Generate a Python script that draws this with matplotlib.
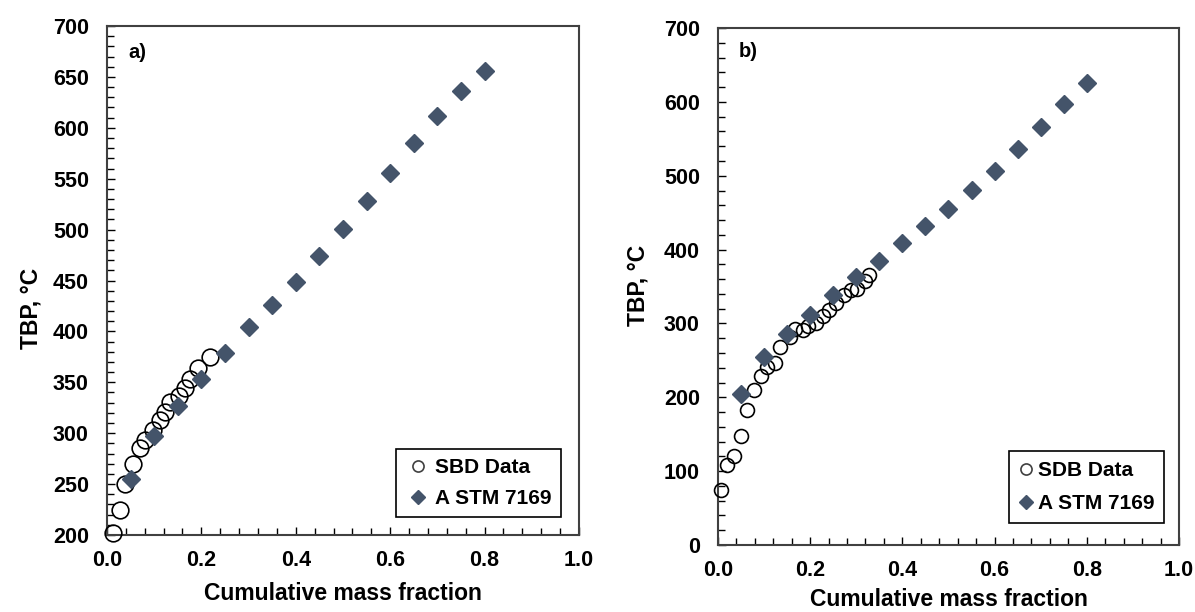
import matplotlib
matplotlib.use("Agg")
import matplotlib.pyplot as plt
from matplotlib.ticker import MultipleLocator, FormatStrFormatter
from matplotlib.lines import Line2D

plt.rcParams['font.family'] = ['Liberation Sans', 'DejaVu Sans']
plt.rcParams['font.weight'] = 'bold'

# ---- panel a) ----
sbd_x = [0.013, 0.028, 0.038, 0.056, 0.071, 0.080, 0.097, 0.112, 0.123,
         0.133, 0.153, 0.165, 0.176, 0.193, 0.218]
sbd_y = [202, 225, 250, 270, 285, 293, 303, 313, 321,
         331, 337, 344, 353, 364, 375]
astm_a_x = [0.05, 0.10, 0.15, 0.20, 0.25, 0.30, 0.35, 0.40,
            0.45, 0.50, 0.55, 0.60, 0.65, 0.70, 0.75, 0.80]
astm_a_y = [255, 297, 327, 353, 379, 404, 426, 449,
            474, 501, 528, 556, 585, 612, 636, 656]

# ---- panel b) ----
sdb_x = [0.0065, 0.020, 0.035, 0.049, 0.064, 0.079, 0.093, 0.107, 0.124,
         0.135, 0.156, 0.167, 0.184, 0.196, 0.213, 0.227, 0.241, 0.257,
         0.273, 0.288, 0.302, 0.318, 0.328]
sdb_y = [75, 108, 121, 147, 183, 210, 229, 241, 247,
         268, 282, 292, 291, 296, 300, 310, 318, 328,
         338, 345, 347, 357, 366]
astm_b_x = [0.05, 0.10, 0.15, 0.20, 0.25, 0.30, 0.35, 0.40,
            0.45, 0.50, 0.55, 0.60, 0.65, 0.70, 0.75, 0.80]
astm_b_y = [205, 254, 286, 312, 339, 363, 385, 409,
            432, 455, 481, 507, 536, 566, 597, 625]

x_label = "Cumulative mass fraction"
y_label = "TBP, °C"
diamond_color = "#44546A"
spine_color = "#404040"

fig = plt.figure(figsize=(11.95, 6.12), dpi=100)
ax_a = fig.add_axes([0.0895, 0.1258, 0.395, 0.8317])
ax_b = fig.add_axes([0.6008, 0.1095, 0.3858, 0.8447])


def style_axes(ax, ymin, ymax, ymaj, ymin_step):
    ax.set_xlim(0, 1.0)
    ax.set_ylim(ymin, ymax)
    ax.xaxis.set_major_locator(MultipleLocator(0.2))
    ax.xaxis.set_minor_locator(MultipleLocator(0.04))
    ax.yaxis.set_major_locator(MultipleLocator(ymaj))
    ax.yaxis.set_minor_locator(MultipleLocator(ymin_step))
    ax.xaxis.set_major_formatter(FormatStrFormatter('%.1f'))
    ax.yaxis.set_major_formatter(FormatStrFormatter('%d'))
    ax.tick_params(which='both', direction='in', top=False, right=False,
                   color='black', width=1.0)
    ax.tick_params(which='major', length=6, labelsize=15.5)
    ax.tick_params(axis='y', which='major', pad=13)
    ax.tick_params(axis='x', which='major', pad=11)
    ax.tick_params(which='minor', length=5)
    for lab in ax.get_xticklabels() + ax.get_yticklabels():
        lab.set_fontweight('bold')
    for sp in ax.spines.values():
        sp.set_color(spine_color)
        sp.set_linewidth(1.5)


# panel a
ax_a.plot(sbd_x, sbd_y, linestyle='none', marker='o', markersize=12,
          markerfacecolor='none', markeredgecolor='black',
          markeredgewidth=1.2, clip_on=False, zorder=3)
ax_a.plot(astm_a_x, astm_a_y, linestyle='none', marker='D', markersize=9,
          color=diamond_color, clip_on=False, zorder=4)
style_axes(ax_a, 200, 700, 50, 10)
ax_a.set_xlabel(x_label, fontsize=16.5, fontweight='bold', labelpad=8)
ax_a.set_ylabel(y_label, fontsize=16.5, fontweight='bold')
ax_a.yaxis.set_label_coords(-0.137, 0.445)
ax_a.text(0.045, 0.948, "a)", transform=ax_a.transAxes, fontsize=14.5,
          fontweight='bold', va='center', ha='left')

# panel b
ax_b.plot(sdb_x, sdb_y, linestyle='none', marker='o', markersize=10,
          markerfacecolor='none', markeredgecolor='black',
          markeredgewidth=1.2, clip_on=False, zorder=3)
ax_b.plot(astm_b_x, astm_b_y, linestyle='none', marker='D', markersize=9,
          color=diamond_color, clip_on=False, zorder=4)
style_axes(ax_b, 0, 700, 100, 20)
ax_b.set_xlabel(x_label, fontsize=16.5, fontweight='bold', labelpad=5)
ax_b.set_ylabel(y_label, fontsize=16.5, fontweight='bold')
ax_b.yaxis.set_label_coords(-0.148, 0.503)
ax_b.text(0.045, 0.955, "b)", transform=ax_b.transAxes, fontsize=14.5,
          fontweight='bold', va='center', ha='left')


def add_legend(ax, first_label, anchor, handlelength, spacing):
    handles = [
        Line2D([], [], linestyle='none', marker='o', markersize=8,
               markerfacecolor='none', markeredgecolor='#404040',
               markeredgewidth=1.2),
        Line2D([], [], linestyle='none', marker='D', markersize=7,
               color=diamond_color),
    ]
    leg = ax.legend(handles, [first_label, "A STM 7169"], loc='lower right',
                    bbox_to_anchor=anchor, prop={'size': 15, 'weight': 'bold'},
                    frameon=True, fancybox=False, handlelength=handlelength,
                    handletextpad=0.15, borderpad=0.45, labelspacing=spacing,
                    borderaxespad=0)
    frame = leg.get_frame()
    frame.set_edgecolor('black')
    frame.set_linewidth(1.2)
    frame.set_alpha(1)


add_legend(ax_a, "SBD Data", (0.962, 0.035), 1.3, 0.55)
add_legend(ax_b, "SDB Data", (0.967, 0.043), 0.8, 0.7)

fig.savefig("out.png", dpi=100)
